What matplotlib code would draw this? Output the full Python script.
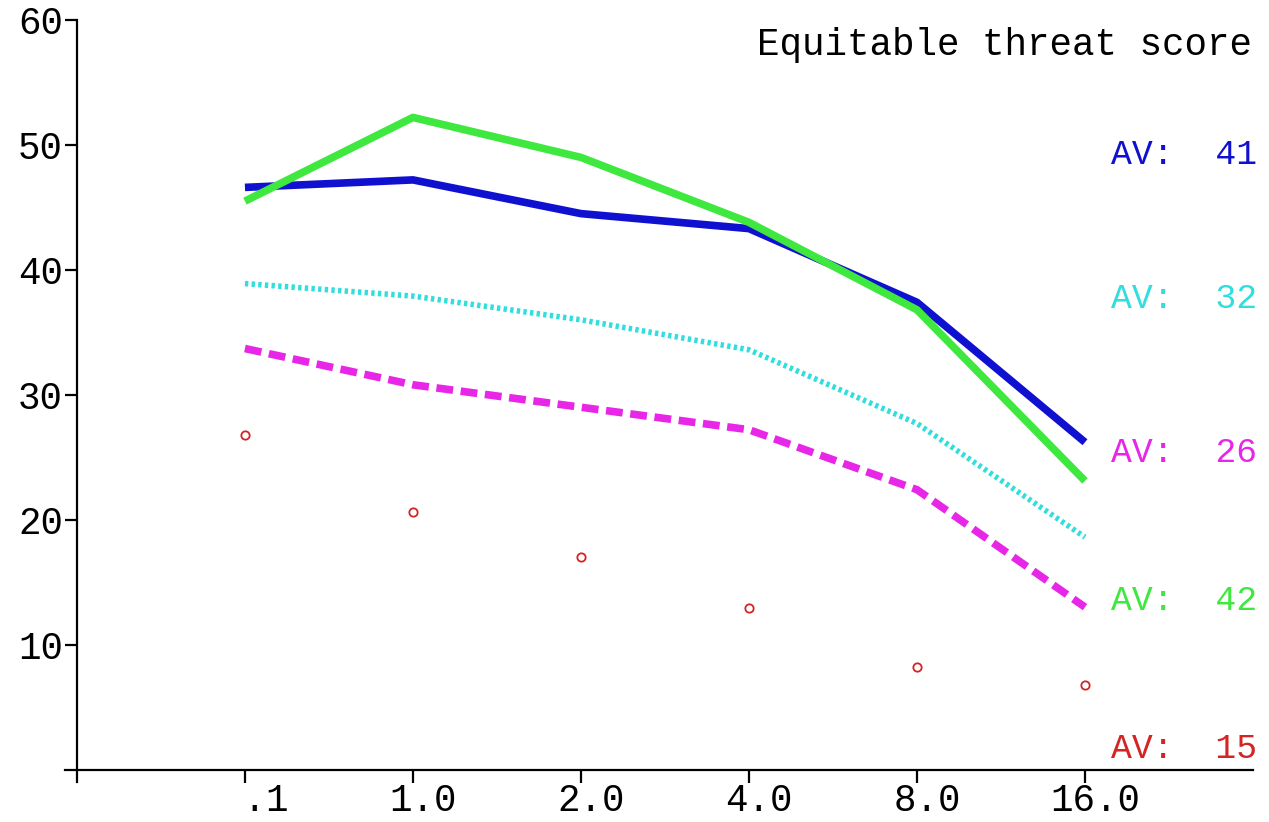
import matplotlib
matplotlib.use("Agg")
import matplotlib.pyplot as plt
import matplotlib.transforms as mtransforms

plt.rcParams["font.family"] = ["Liberation Mono", "DejaVu Sans Mono"]

thresholds = [" .1", "1.0", "2.0", "4.0", "8.0", "16.0"]
blue = [46.6, 47.2, 44.5, 43.3, 37.4, 26.2]
green = [45.5, 52.2, 49.0, 43.8, 36.8, 23.1]
cyan = [38.9, 37.9, 36.0, 33.6, 27.7, 18.6]
magenta = [33.7, 30.8, 29.0, 27.2, 22.4, 13.0]
red = [26.8, 20.6, 17.0, 12.9, 8.2, 6.8]
averages = ["AV:  41", "AV:  32", "AV:  26", "AV:  42", "AV:  15"]

c_blue = "#1010d0"
c_green = "#3ee83e"
c_cyan = "#30dede"
c_magenta = "#e826e8"
c_red = "#d42424"

fig = plt.figure(figsize=(12.69, 8.22), dpi=100)
ax = fig.add_axes([65 / 1269, 40 / 822, 1188 / 1269, 762 / 822])

x = list(range(len(thresholds)))
ax.plot(x, blue, color=c_blue, lw=5.5, solid_capstyle="butt")
ax.plot(x, green, color=c_green, lw=5.5, solid_capstyle="butt")
ax.plot(x, cyan, color=c_cyan, lw=4, ls=(0, (0.6, 0.6)))
ax.plot(x, magenta, color=c_magenta, lw=5.5, ls=(0, (2.2, 1.0)))
ax.plot(x, red, ls="none", marker="o", ms=6, mfc="none", mec=c_red, mew=1.3)

ax.set_xlim(-1.071, 6)
ax.set_ylim(-1, 60)

for s in ["top", "right"]:
    ax.spines[s].set_visible(False)
ax.spines["left"].set_position(("data", -1))
ax.spines["bottom"].set_position(("data", 0))
for s in ["left", "bottom"]:
    ax.spines[s].set_linewidth(1.6)

ax.set_xticks(x)
ax.set_xticklabels(thresholds)
ax.set_yticks([10, 20, 30, 40, 50, 60])
ax.set_yticklabels(["10", "20", "30", "40", "50", "60"])
ax.tick_params(axis="both", direction="out", length=9, width=1.6, labelsize=27)
ax.tick_params(axis="x", pad=1)
ax.tick_params(axis="y", pad=1)

offset = mtransforms.ScaledTranslation(10 / 100, 0, fig.dpi_scale_trans)
for lab in ax.get_xticklabels():
    lab.set_transform(lab.get_transform() + offset)

fig.text(1252 / 1269, 1 - 45 / 822, "Equitable threat score", ha="right", va="center",
         fontsize=27)

label_y = [155, 298, 452, 600, 748]
label_c = [c_blue, c_cyan, c_magenta, c_green, c_red]
for txt, yy, cc in zip(averages, label_y, label_c):
    fig.text(1257 / 1269, 1 - yy / 822, txt, ha="right", va="center", fontsize=25,
             color=cc)

fig.savefig("out.png", dpi=100)
